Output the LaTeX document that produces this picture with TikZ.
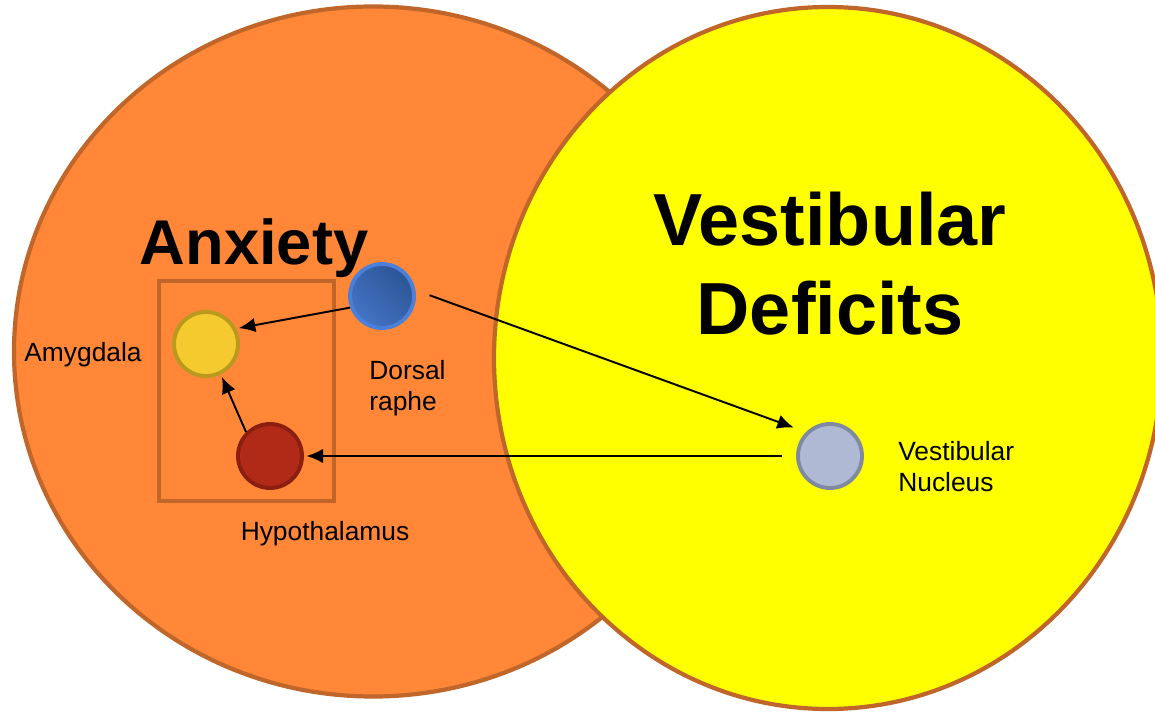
\documentclass[tikz,border=0pt]{standalone}
\usepackage{fontspec}
\setmainfont{Liberation Sans}
\usetikzlibrary{positioning,arrows.meta,shapes.geometric}
\definecolor{naranja}{HTML}{FF8737}
\definecolor{bordeZona}{HTML}{C0662B}
\definecolor{amarillo}{HTML}{FFFF00}
\definecolor{amigdalaC}{HTML}{F4CA2E}
\definecolor{bordeAmig}{HTML}{B99A1F}
\definecolor{hipoC}{HTML}{B02A17}
\definecolor{bordeHipo}{HTML}{8A1E0F}
\definecolor{rafeOscuro}{HTML}{2B5595}
\definecolor{rafeClaro}{HTML}{4574C6}
\definecolor{bordeRafe}{HTML}{4A80DA}
\definecolor{nucleoVN}{HTML}{AEB9D4}
\definecolor{bordeVN}{HTML}{7F89A0}
\tikzset{
  zona/.style={ellipse, draw=bordeZona, line width=2.4pt, inner sep=0pt},
  caja/.style={rectangle, draw=bordeZona, line width=2.3pt, inner sep=0pt},
  nucleo/.style={circle, line width=2.2pt, minimum size=1.28cm, inner sep=0pt},
  etiqueta/.style={font=\fontsize{15}{17.5}\selectfont, inner sep=0pt, align=left},
  titulo/.style={inner sep=0pt, align=center},
  flecha/.style={-{Latex[length=3.3mm,width=2.9mm]}, line width=1.1pt, black,
    shorten >=1.5pt},
}

\begin{document}
\begin{tikzpicture}
    \useasboundingbox (0,0) rectangle (23.1,-14.24);
    \node[zona, fill=naranja, minimum width=14.36cm, minimum height=13.8cm] (ansiedad) at (7.46,-7.03) {};
    \node[zona, fill=amarillo, minimum width=13.36cm, minimum height=14.04cm] (vestibular) at (16.56,-7.16) {};

    \node[titulo, anchor=base, font=\bfseries\fontsize{36}{40}\selectfont] (tansiedad) at (5.08,-5.30) {Anxiety};
    \node[titulo, font=\bfseries\fontsize{42}{50.6}\selectfont] (tvest) at (16.6,-5.28) {Vestibular\\Deficits};

    \node[caja, minimum width=3.5cm, minimum height=4.4cm] (sistema) at (4.93,-7.82) {};

    \node[nucleo, draw=bordeAmig, fill=amigdalaC] (amigdala) at (4.12,-6.88) {};
    \node[nucleo, draw=bordeHipo, fill=hipoC] (hipotalamo) at (5.40,-9.12) {};
    \node[nucleo, draw=bordeRafe, bottom color=rafeClaro, top color=rafeOscuro,
          shading angle=-45] (rafe) at (7.64,-5.92) {};
    \node[nucleo, draw=bordeVN, fill=nucleoVN] (nvest) at (16.60,-9.12) {};

    \node[etiqueta, anchor=base] (lamig) at (1.66,-7.24) {Amygdala};
    \node[etiqueta, anchor=base west] (lrafe) at (7.38,-8.20) {Dorsal\\raphe};
    \node[etiqueta, anchor=base] (lhipo) at (6.50,-10.80) {Hypothalamus};
    \node[etiqueta, anchor=base west] (lnvest) at (17.96,-9.82) {Vestibular\\Nucleus};

    \draw[flecha] (rafe.200) -- (amigdala.27);
    \draw[flecha] (hipotalamo.135) -- (amigdala.-64);
    \draw[flecha, shorten <=0.3cm, shorten >=0.26cm] (rafe.10) -- (nvest.135);
    \draw[flecha, shorten <=0.28cm] (nvest.west) -- (hipotalamo.east);
\end{tikzpicture}
\end{document}
